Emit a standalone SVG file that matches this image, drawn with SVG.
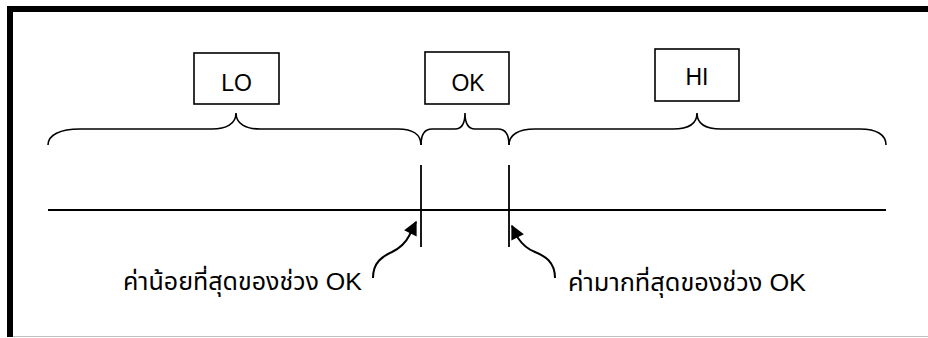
<svg xmlns="http://www.w3.org/2000/svg" width="928" height="338" viewBox="0 0 928 338">
<style>
.box{fill:#fff;stroke:#000;stroke-width:1.6}
.lbl{font-family:"Liberation Sans",Arial,sans-serif;font-size:23px;fill:#000;text-anchor:middle}
.th{font-family:"Liberation Sans","Noto Sans Thai","Noto Sans",sans-serif;font-size:24px;fill:#000}
.ln{fill:none;stroke:#000;stroke-width:1.8}
.br{fill:none;stroke:#000;stroke-width:1.6}
.ar{fill:none;stroke:#000;stroke-width:2}
</style>
<defs>
<marker id="ah" viewBox="0 0 10 10" refX="9" refY="5" markerWidth="16" markerHeight="14" markerUnits="userSpaceOnUse" orient="auto">
<path d="M0,0 L10,5 L0,10 Z" fill="#000"/>
</marker>
</defs>
<rect x="0" y="0" width="928" height="338" fill="#fff"/>
<g id="frame">
<rect x="7" y="6" width="921" height="6" fill="#000"/>
<rect x="7" y="6" width="6" height="331" fill="#000"/>
<line x1="13" y1="336.5" x2="928" y2="336.5" stroke="#c0c0c0" stroke-width="1.2"/>
</g>
<g id="node-lo">
<rect class="box" x="194" y="53" width="85" height="51"/>
<text class="lbl" x="236.5" y="91">LO</text>
</g>
<g id="node-ok">
<rect class="box" x="425" y="52" width="84" height="52"/>
<text class="lbl" x="468" y="91">OK</text>
</g>
<g id="node-hi">
<rect class="box" x="655" y="49" width="84" height="52"/>
<text class="lbl" x="697" y="85">HI</text>
</g>
<g id="label-min">
<text class="th" x="123" y="290" textLength="239" lengthAdjust="spacingAndGlyphs">ค่าน้อยที่สุดของช่วง OK</text>
</g>
<g id="label-max">
<text class="th" x="568" y="291" textLength="238" lengthAdjust="spacingAndGlyphs">ค่ามากที่สุดของช่วง OK</text>
</g>
<g id="connectors">
<path class="br" d="M48,145 C48,135 60,129 80,129 L212,129 C226,129 236,124 236,113 C236,124 246,129 260,129 L398,129 C413,129 421,135 421,145"/>
<path class="br" d="M421,145 C421,136 424,129 432,129 L455,129 C461,129 465,124 465,113 C465,124 469,129 475,129 L498,129 C506,129 509,136 509,145"/>
<path class="br" d="M509,145 C509,135 518,129 535,129 L673,129 C688,129 697,124 697,113 C697,124 706,129 721,129 L860,129 C877,129 886,135 886,145"/>
<line class="ln" x1="48" y1="210" x2="886" y2="210"/>
<line class="ln" x1="421" y1="165" x2="421" y2="247"/>
<line class="ln" x1="509" y1="165" x2="509" y2="247"/>
<path class="ar" d="M373,278 C373,262 383,256 392,252 C400,248 405,244 409,236 L416,222" marker-end="url(#ah)"/>
<path class="ar" d="M555,278 C555,262 545,256 535,252 C527,249 522,244 518,238 L512,226" marker-end="url(#ah)"/>
</g>
</svg>
